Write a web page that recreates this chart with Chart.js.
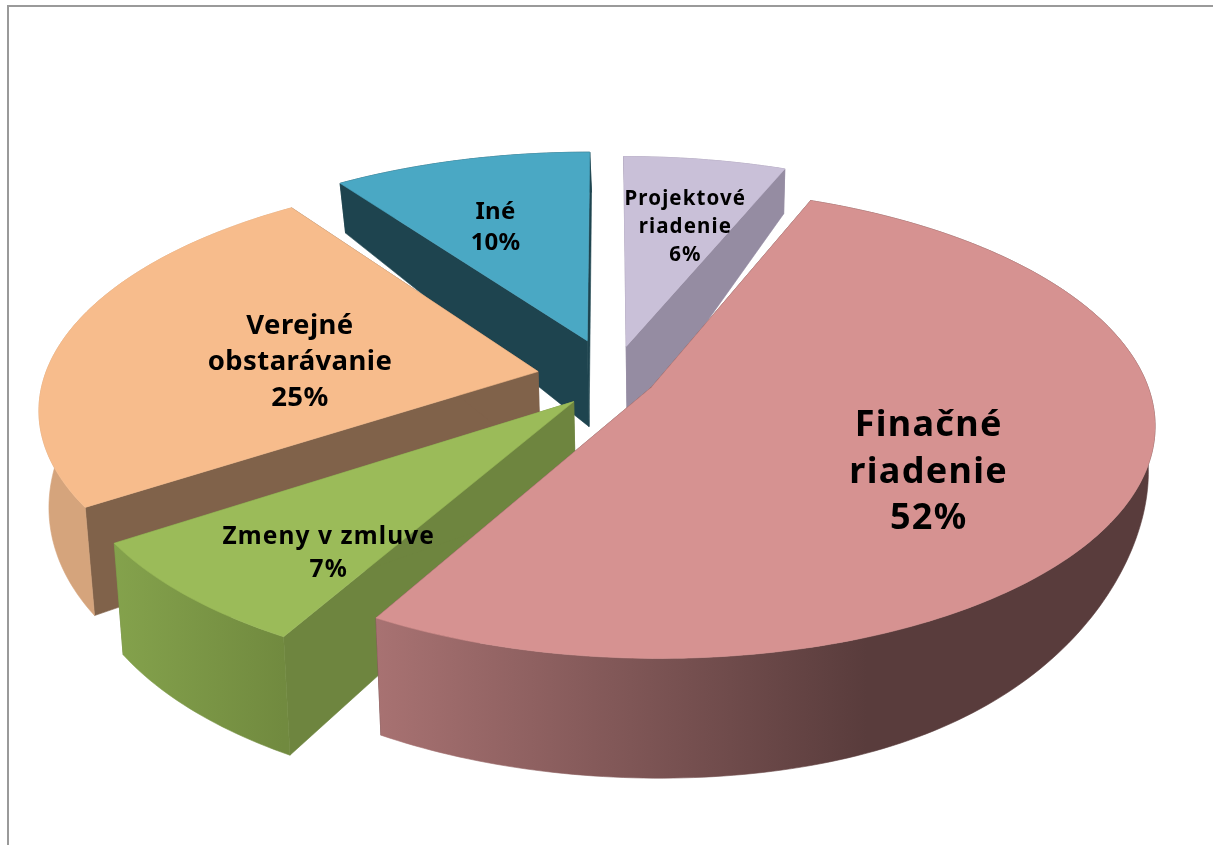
<!DOCTYPE html>
<html lang="sk">
<head>
<meta charset="utf-8">
<title>Pie</title>
<script src="https://cdn.jsdelivr.net/npm/chart.js@4/dist/chart.umd.min.js"></script>
<style>
html,body{margin:0;padding:0;background:#fff;overflow:hidden}
#wrap{position:relative;width:1213px;height:845px}
#frame{position:absolute;left:7px;top:5px;right:0;bottom:0;border-left:2px solid #9a9a9a;border-top:2px solid #9a9a9a;pointer-events:none}
canvas{position:absolute;left:0;top:0}
</style>
</head>
<body>
<div id="wrap"><canvas id="c" width="1213" height="845"></canvas><div id="frame"></div></div>
<script>
// Data
const categories = [["Projektové","riadenie"],["Finačné","riadenie"],["Zmeny v zmluve"],["Verejné","obstarávanie"],["Iné"]];
const shareValues = [6.17,52.03,7.47,24.5,9.83];
const percentLabels = ["6%","52%","7%","25%","10%"];

// Styles
const topColors = ["#C9C0D8","#D69291","#9BBB59","#F7BC8C","#4AA8C4"];
const radialWallColors = ["#958CA2","#593C3C","#6E853F","#80624A","#1E444F"];
const arcWallStart = ["#958CA2","#A87272","#84A24C","#D5A47C","#1E444F"];
const arcWallEnd = ["#958CA2","#593C3C","#718A3F","#D5A47C","#1E444F"];
const arcWallStop = [1,0.63,1,1,1];
const explode = [14.7,9.8,12.2,14.3,17.3];
const explodeTurn = [4.5,-1,-10,1,4];
const fontSizes = [20.5,36,24.5,27.5,24];
const lineHeights = [28,46.5,33,36,31];
const letterGaps = [1.1,1.3,1.1,0.4,0.2];
const labelAlong = [0.66,0.55,0.24,0.454,0.47];
const labelRadial = [0.62,0.6,0.739,0.484,0.65];
const labelNudgeX = [-9,18,-2,-4,-1];
const labelNudgeY = [1,1,-2,3,8.5];
const paintOrder = [4,0,3,2,1];

// Perspective view of the pie
const view = {cx:607,cy:378,radius:494,tilt:0.46,persp:0.15,d0:92,d1:35,d2:-8,rightFade:0.4,bottomShrink:0.985,bottomShift:1.5};

function project(u,v,bottom){
  const s = 1/(1 - view.persp*v);
  let x = view.cx + u*view.radius*s;
  let y = view.cy + v*view.radius*view.tilt*s;
  if(bottom){
    x = view.cx + (x-view.cx)*view.bottomShrink + view.bottomShift;
    const ur = Math.max(0,u);
    y += (view.d0 + view.d1*v + view.d2*v*v)*(1 - view.rightFade*Math.pow(ur,4));
  }
  return [x,y];
}

function sliceGeom(el,i){
  const mid = (el.startAngle+el.endAngle)/2 + explodeTurn[i]*Math.PI/180;
  const f = el.options.offset/100;
  const ox = f*Math.cos(mid), oy = f*Math.sin(mid);
  const at = (a,r,b)=>project(ox + r*Math.cos(a), oy + r*Math.sin(a), b);
  const arc = [];
  const n = Math.max(8,Math.ceil((el.endAngle-el.startAngle)/(Math.PI/180)));
  for(let k=0;k<=n;k++) arc.push(el.startAngle+(el.endAngle-el.startAngle)*k/n);
  return {at,arc};
}

function poly(ctx,pts,fill){
  ctx.beginPath();
  pts.forEach((p,i)=> i?ctx.lineTo(p[0],p[1]):ctx.moveTo(p[0],p[1]));
  ctx.closePath();
  ctx.fillStyle = fill;
  ctx.fill();
  ctx.strokeStyle = fill;
  ctx.lineWidth = 0.6;
  ctx.stroke();
}

const pie3d = {
  id:'pie3d',
  beforeDatasetsDraw(chart){
    const ctx = chart.ctx;
    const arcs = chart.getDatasetMeta(0).data;
    ctx.save();
    ctx.lineJoin = 'round';
    paintOrder.forEach(i=>{
      const el = arcs[i];
      const {at,arc} = sliceGeom(el,i);
      // radial walls
      [el.startAngle,el.endAngle].forEach(a=>{
        poly(ctx,[at(a,0,false),at(a,1,false),at(a,1,true),at(a,0,true)],radialWallColors[i]);
      });
      // outer wall
      const top = arc.map(a=>at(a,1,false));
      const bot = arc.map(a=>at(a,1,true)).reverse();
      const xs = top.map(p=>p[0]);
      const x0 = Math.min(...xs), x1 = Math.max(...xs);
      let g = ctx.createLinearGradient(x0,0,x1,0);
      g.addColorStop(0,arcWallStart[i]);
      g.addColorStop(arcWallStop[i],arcWallEnd[i]);
      if(arcWallStop[i]<1) g.addColorStop(1,arcWallEnd[i]);
      poly(ctx,top.concat(bot),g);
      // top face
      poly(ctx,[at(el.startAngle,0,false)].concat(top),el.options.backgroundColor);
    });
    // labels
    ctx.fillStyle = '#000';
    ctx.textAlign = 'center';
    ctx.textBaseline = 'middle';
    arcs.forEach((el,i)=>{
      const {at} = sliceGeom(el,i);
      const a = el.startAngle + (el.endAngle-el.startAngle)*labelAlong[i];
      const p = at(a,labelRadial[i],false);
      const lines = categories[i].concat([percentLabels[i]]);
      ctx.font = 'bold '+fontSizes[i]+'px "Noto Sans", sans-serif';
      ctx.letterSpacing = letterGaps[i]+'px';
      lines.forEach((t,k)=>{
        ctx.fillText(t,p[0]+labelNudgeX[i],p[1]+labelNudgeY[i]+(k-(lines.length-1)/2)*lineHeights[i]);
      });
    });
    ctx.restore();
    return false;
  }
};

new Chart(document.getElementById('c'),{
  type:'pie',
  data:{
    labels:categories.map(c=>c.join(' ')),
    datasets:[{data:shareValues,backgroundColor:topColors,offset:explode,borderWidth:0}]
  },
  options:{
    responsive:false,
    animation:false,
    plugins:{legend:{display:false},tooltip:{enabled:false},title:{display:false}}
  },
  plugins:[pie3d]
});
</script>
</body>
</html>
